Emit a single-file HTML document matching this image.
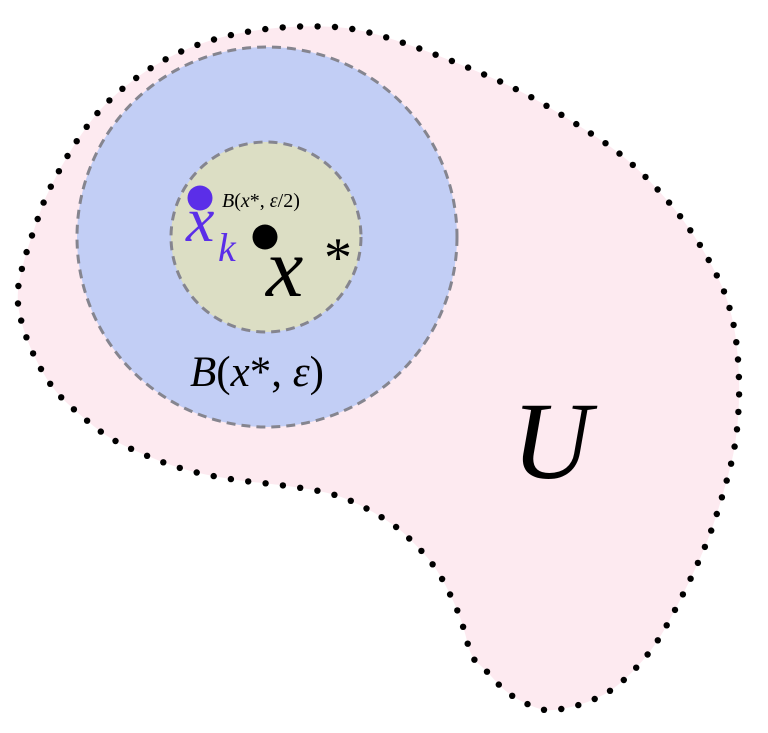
<!DOCTYPE html>
<html><head><meta charset="utf-8"><style>
html,body{margin:0;padding:0;background:#fff;width:768px;height:733px;overflow:hidden}
svg{display:block}
text{font-family:"Liberation Serif",serif}
.i{font-style:italic}
</style></head><body>
<svg id="s" width="768" height="733" viewBox="0 0 768 733">
<path id="fill" fill="#fdeaf0" stroke="none" d=""/>
<g id="dg"></g>
<circle cx="267" cy="237" r="190" fill="#c2cef5" stroke="#85858f" stroke-width="3" stroke-dasharray="9 6"/>
<circle cx="266" cy="237" r="95" fill="#dcdec4" stroke="#85858f" stroke-width="3" stroke-dasharray="9 6"/>
<circle cx="200" cy="198" r="12.5" fill="#5b2ee8"/>
<circle cx="265" cy="237" r="12.5" fill="#000"/>
<text x="222" y="207" font-size="20"><tspan class="i">B</tspan>(<tspan class="i">x</tspan>*, <tspan class="i">ε</tspan>/2)</text>
<text x="186" y="241" font-size="64" fill="#5b2ee8" class="i">x</text>
<text x="218" y="261" font-size="40" fill="#5b2ee8" class="i">k</text>
<text x="266" y="296" font-size="84" class="i">x</text>
<text x="324" y="276" font-size="56">*</text>
<text x="190" y="386" font-size="43"><tspan class="i">B</tspan>(<tspan class="i">x</tspan>*, <tspan class="i">ε</tspan>)</text>
<text x="512" y="478" font-size="110" class="i">U</text>
</svg>
<script>
var P=[[352,28],[394,39],[458,63],[522,91],[580,126],[623,155],[660,191],[692,231],[718,276],[730,307],[737,342],[740,393],[736,443],[728,477],[713,527],[700,559],[678,605],[653,650],[618,687],[588,703],[554,711],[537,709],[507,694],[484,668],[471,658],[463,624],[450,593],[433,563],[409,538],[397,527],[367,508],[333,493],[283,485],[233,480],[183,470],[137,452],[107,437],[80,415],[55,392],[37,363],[23,330],[16,297],[23,262],[40,212],[46,196],[62,165],[79,137],[100,109],[125,86],[153,66],[183,50],[217,38],[250,31],[283,27],[318,26]];
var n=P.length,d="";
function m(a,b){return [(a[0]+b[0])/2,(a[1]+b[1])/2];}
var s=m(P[n-1],P[0]);d="M"+s[0]+" "+s[1];
for(var i=0;i<n;i++){var q=m(P[i],P[(i+1)%n]);d+=" Q"+P[i][0]+" "+P[i][1]+" "+q[0]+" "+q[1];}
d+="Z";
var f=document.getElementById("fill");f.setAttribute("d",d);
var L=f.getTotalLength(),N=Math.round(L/17.5),step=L/N,g=document.getElementById("dg"),h="";
for(var j=0;j<N;j++){var p=f.getPointAtLength(j*step);h+='<circle cx="'+p.x.toFixed(1)+'" cy="'+p.y.toFixed(1)+'" r="3.2" fill="#000"/>';}
g.innerHTML=h;
</script>
</body></html>
